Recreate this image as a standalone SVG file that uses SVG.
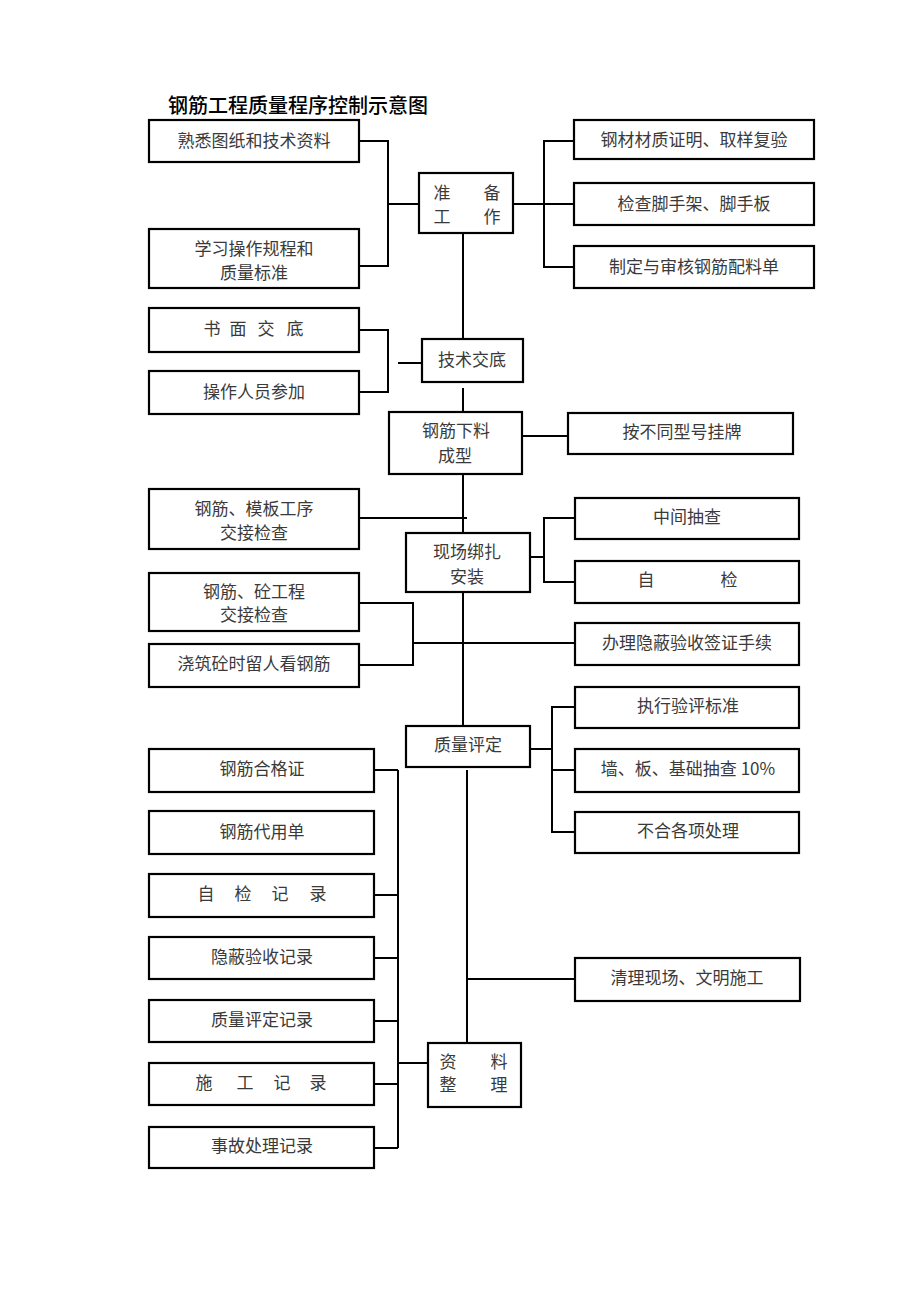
<svg xmlns="http://www.w3.org/2000/svg" width="920" height="1301" viewBox="0 0 920 1301">
<style>
.box{fill:#fff;stroke:#000;stroke-width:2.2}
.t{font-family:"Noto Sans CJK SC","Liberation Sans",sans-serif;font-size:17px;fill:#3a3a3a;text-anchor:middle;dominant-baseline:central;transform:translateY(-2px)}
.title{font-family:"Noto Sans CJK SC","Liberation Sans",sans-serif;font-size:20px;fill:#000;font-weight:500}
#connectors path{fill:none;stroke:#000;stroke-width:2}
</style>
<rect width="920" height="1301" fill="#fff"/>
<text class="title" x="168" y="113">钢筋工程质量程序控制示意图</text>
<g id="connectors">
<path d="M359,141H388V266H359M388,204H419"/>
<path d="M513,204H574M574,141H544V267H574"/>
<path d="M463,233V339"/>
<path d="M359,330H388V392H359M398,363H422"/>
<path d="M463,388V412"/>
<path d="M522,436H568"/>
<path d="M463,474V533"/>
<path d="M359,518H467"/>
<path d="M530,557H544M575,518H544V582H575"/>
<path d="M463,592V726"/>
<path d="M359,603H413V665H359M413,643H575"/>
<path d="M530,749H552M575,707H552V832H575M552,770H575"/>
<path d="M467,770V1043"/>
<path d="M467,979H575"/>
<path d="M398,770V1148M374,770H398M374,895H398M374,958H398M374,1021H398M374,1084H398M374,1148H398"/>
<path d="M398,1063H428"/>
</g>
<g id="n1"><rect class="box" x="149" y="120" width="210" height="42"/><text class="t" x="254" y="141">熟悉图纸和技术资料</text></g>
<g id="n2"><rect class="box" x="149" y="229" width="210" height="59"/><text class="t" x="254" y="249">学习操作规程和</text><text class="t" x="254" y="273">质量标准</text></g>
<g id="n3"><rect class="box" x="419" y="173" width="94" height="60"/><text class="t" x="442" y="193">准</text><text class="t" x="492" y="193">备</text><text class="t" x="442" y="217">工</text><text class="t" x="492" y="217">作</text></g>
<g id="n4"><rect class="box" x="574" y="120" width="240" height="39"/><text class="t" x="694" y="140">钢材材质证明、取样复验</text></g>
<g id="n5"><rect class="box" x="574" y="183" width="240" height="42"/><text class="t" x="694" y="204">检查脚手架、脚手板</text></g>
<g id="n6"><rect class="box" x="574" y="246" width="240" height="42"/><text class="t" x="694" y="267">制定与审核钢筋配料单</text></g>
<g id="n7"><rect class="box" x="149" y="308" width="210" height="44"/><text class="t" x="212" y="329">书</text><text class="t" x="238" y="329">面</text><text class="t" x="266" y="329">交</text><text class="t" x="295" y="329">底</text></g>
<g id="n8"><rect class="box" x="149" y="371" width="210" height="43"/><text class="t" x="254" y="392">操作人员参加</text></g>
<g id="n9"><rect class="box" x="422" y="339" width="101" height="43"/><text class="t" x="472" y="360">技术交底</text></g>
<g id="n10"><rect class="box" x="389" y="412" width="133" height="62"/><text class="t" x="456" y="431">钢筋下料</text><text class="t" x="455" y="456">成型</text></g>
<g id="n11"><rect class="box" x="568" y="413" width="225" height="41"/><text class="t" x="682" y="432">按不同型号挂牌</text></g>
<g id="n12"><rect class="box" x="149" y="489" width="210" height="60"/><text class="t" x="254" y="509">钢筋、模板工序</text><text class="t" x="254" y="533">交接检查</text></g>
<g id="n13"><rect class="box" x="406" y="533" width="124" height="59"/><text class="t" x="467" y="552">现场绑扎</text><text class="t" x="467" y="577">安装</text></g>
<g id="n14"><rect class="box" x="575" y="498" width="224" height="41"/><text class="t" x="687" y="517">中间抽查</text></g>
<g id="n15"><rect class="box" x="575" y="561" width="224" height="42"/><text class="t" x="646" y="580">自</text><text class="t" x="729" y="580">检</text></g>
<g id="n16"><rect class="box" x="149" y="573" width="210" height="58"/><text class="t" x="254" y="592">钢筋、砼工程</text><text class="t" x="254" y="615">交接检查</text></g>
<g id="n17"><rect class="box" x="149" y="644" width="210" height="43"/><text class="t" x="254" y="664">浇筑砼时留人看钢筋</text></g>
<g id="n18"><rect class="box" x="575" y="623" width="224" height="42"/><text class="t" x="687" y="643">办理隐蔽验收签证手续</text></g>
<g id="n19"><rect class="box" x="406" y="726" width="124" height="41"/><text class="t" x="468" y="745">质量评定</text></g>
<g id="n20"><rect class="box" x="575" y="687" width="224" height="41"/><text class="t" x="688" y="706">执行验评标准</text></g>
<g id="n21"><rect class="box" x="575" y="749" width="224" height="43"/><text class="t" x="688" y="769">墙、板、基础抽查 10%</text></g>
<g id="n22"><rect class="box" x="575" y="812" width="224" height="41"/><text class="t" x="688" y="831">不合各项处理</text></g>
<g id="n23"><rect class="box" x="149" y="749" width="225" height="43"/><text class="t" x="262" y="769">钢筋合格证</text></g>
<g id="n24"><rect class="box" x="149" y="811" width="225" height="43"/><text class="t" x="262" y="832">钢筋代用单</text></g>
<g id="n25"><rect class="box" x="149" y="874" width="225" height="43"/><text class="t" x="206" y="894">自</text><text class="t" x="243" y="894">检</text><text class="t" x="280" y="894">记</text><text class="t" x="318" y="894">录</text></g>
<g id="n26"><rect class="box" x="149" y="937" width="225" height="42"/><text class="t" x="262" y="957">隐蔽验收记录</text></g>
<g id="n27"><rect class="box" x="149" y="1000" width="225" height="42"/><text class="t" x="262" y="1020">质量评定记录</text></g>
<g id="n28"><rect class="box" x="149" y="1063" width="225" height="42"/><text class="t" x="204" y="1083">施</text><text class="t" x="245" y="1083">工</text><text class="t" x="282" y="1083">记</text><text class="t" x="318" y="1083">录</text></g>
<g id="n29"><rect class="box" x="149" y="1127" width="225" height="41"/><text class="t" x="262" y="1146">事故处理记录</text></g>
<g id="n30"><rect class="box" x="575" y="958" width="225" height="43"/><text class="t" x="687" y="978">清理现场、文明施工</text></g>
<g id="n31"><rect class="box" x="428" y="1043" width="93" height="64"/><text class="t" x="448" y="1062">资</text><text class="t" x="499" y="1062">料</text><text class="t" x="448" y="1085">整</text><text class="t" x="499" y="1085">理</text></g>
</svg>
